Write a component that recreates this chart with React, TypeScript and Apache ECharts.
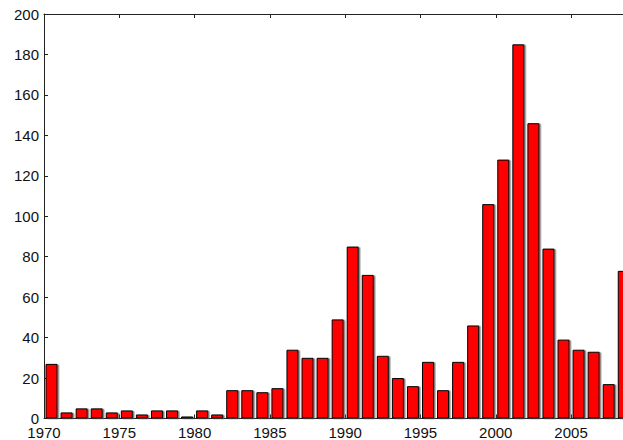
import { useEffect, useRef } from "react";
import * as echarts from "echarts";

const YEARS = [
  1970, 1971, 1972, 1973, 1974, 1975, 1976, 1977, 1978, 1979,
  1980, 1981, 1982, 1983, 1984, 1985, 1986, 1987, 1988, 1989,
  1990, 1991, 1992, 1993, 1994, 1995, 1996, 1997, 1998, 1999,
  2000, 2001, 2002, 2003, 2004, 2005, 2006, 2007, 2008,
];

const COUNTS = [
  27, 3, 5, 5, 3, 4, 2, 4, 4, 1,
  4, 2, 14, 14, 13, 15, 34, 30, 30, 49,
  85, 71, 31, 20, 16, 28, 14, 28, 46, 106,
  128, 185, 146, 84, 39, 34, 33, 17, 73,
];

const FONT = "Liberation Sans, Arial, Helvetica, sans-serif";
const AXIS_COLOR = "#222";
// the plot runs past the right edge of the figure, so the visible range stops mid-2008
const X_MIN = 1970;
const X_MAX = 2008.45;

export default function App() {
  const rootRef = useRef<HTMLDivElement | null>(null);

  useEffect(() => {
    if (!rootRef.current) {
      return;
    }
    const chart = echarts.init(rootRef.current, undefined, { renderer: "svg" });

    // bars sit in the middle of each year, ticks on the year boundaries
    const barData = YEARS.map((year, i) => [year + 0.5, COUNTS[i]]);

    const tickStyle = { inside: true, length: 4, lineStyle: { color: AXIS_COLOR, width: 1 } };
    const lineStyle = { color: AXIS_COLOR, width: 1 };

    chart.setOption({
      animation: false,
      backgroundColor: "#fff",
      grid: { left: 44, right: 0, top: 14, bottom: 20, containLabel: false },
      xAxis: [
        {
          type: "value",
          position: "bottom",
          min: X_MIN,
          max: X_MAX,
          interval: 5,
          axisLine: { show: true, onZero: false, lineStyle },
          axisTick: tickStyle,
          splitLine: { show: false },
          axisLabel: {
            color: "#111",
            fontSize: 15,
            lineHeight: 12,
            fontFamily: FONT,
            margin: 8,
            showMaxLabel: false,
            formatter: (value: number) => String(value),
          },
        },
        {
          type: "value",
          position: "top",
          min: X_MIN,
          max: X_MAX,
          interval: 5,
          axisLine: { show: true, onZero: false, lineStyle },
          axisTick: tickStyle,
          splitLine: { show: false },
          axisLabel: { show: false },
        },
      ],
      yAxis: {
        type: "value",
        min: 0,
        max: 200,
        interval: 20,
        axisLine: { show: true, lineStyle },
        axisTick: tickStyle,
        splitLine: { show: false },
        axisLabel: {
          color: "#111",
          fontSize: 15,
          lineHeight: 11,
          fontFamily: FONT,
          margin: 5,
        },
      },
      series: [
        {
          type: "bar",
          xAxisIndex: 0,
          data: barData,
          barWidth: 12,
          clip: true,
          itemStyle: {
            color: "#ff0000",
            borderColor: "#000",
            borderWidth: 1,
            shadowColor: "rgba(90, 90, 90, 0.8)",
            shadowOffsetX: 1.5,
            shadowOffsetY: 0.5,
            shadowBlur: 0,
          },
          z: 1,
        },
      ],
    });

    return () => {
      chart.dispose();
    };
  }, []);

  return (
    <div
      ref={rootRef}
      style={{ position: "fixed", left: 0, top: 0, width: 623, height: 440, background: "#fff" }}
    />
  );
}
